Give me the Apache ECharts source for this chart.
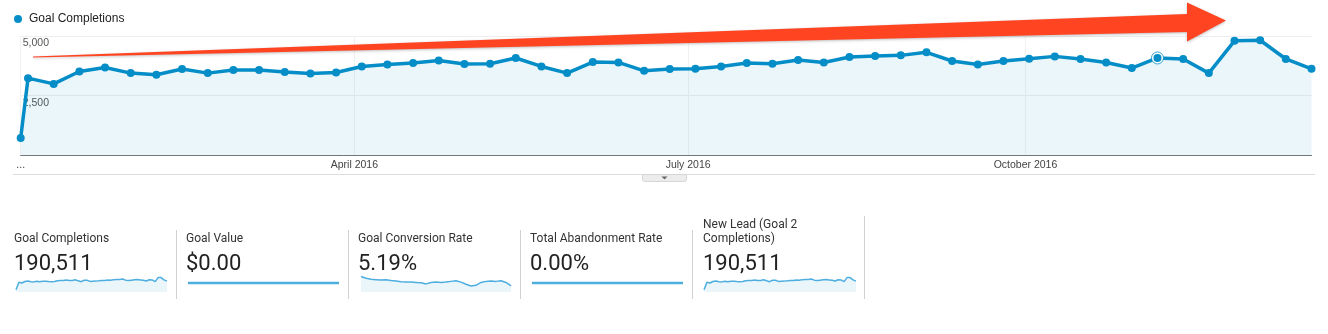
<!DOCTYPE html>
<html>
<head>
<meta charset="utf-8">
<script src="https://cdn.jsdelivr.net/npm/echarts@6/dist/echarts.min.js"></script>
<style>
html,body{margin:0;padding:0;background:#fff;}
#chart{width:1328px;height:334px;}
</style>
</head>
<body>
<div id="chart"></div>
<script>
// ---- data ----
const seriesName = 'Goal Completions';
const weekStarts = ['2016-01-01','2016-01-03','2016-01-10','2016-01-17','2016-01-24','2016-01-31','2016-02-07','2016-02-14','2016-02-21','2016-02-28','2016-03-06','2016-03-13','2016-03-20','2016-03-27','2016-04-03','2016-04-10','2016-04-17','2016-04-24','2016-05-01','2016-05-08','2016-05-15','2016-05-22','2016-05-29','2016-06-05','2016-06-12','2016-06-19','2016-06-26','2016-07-03','2016-07-10','2016-07-17','2016-07-24','2016-07-31','2016-08-07','2016-08-14','2016-08-21','2016-08-28','2016-09-04','2016-09-11','2016-09-18','2016-09-25','2016-10-02','2016-10-09','2016-10-16','2016-10-23','2016-10-30','2016-11-06','2016-11-13','2016-11-20','2016-11-27','2016-12-04','2016-12-11','2016-12-18'];
const goalCompletions = [729,3234,2993,3512,3681,3444,3373,3613,3444,3571,3571,3487,3428,3470,3723,3807,3866,3976,3824,3837,4077,3723,3444,3908,3891,3541,3613,3626,3723,3866,3837,3993,3891,4119,4161,4186,4313,3950,3807,3950,4047,4144,4035,3891,3655,4077,4035,3444,4793,4819,4035,3626];
const highlightedWeek = '2016-11-06';
const xTickDates = ['2016-01-01','2016-04-01','2016-07-01','2016-10-01'];
const xTickLabels = ['...','April 2016','July 2016','October 2016'];
const yTicks = [0, 2500, 5000];

const cardTitles = ['Goal Completions','Goal Value','Goal Conversion Rate','Total Abandonment Rate','New Lead (Goal 2\nCompletions)'];
const cardValues = ['190,511','$0.00','5.19%','0.00%','190,511'];
const conversionSpark = [5.73,5.53,5.41,5.37,5.33,5.37,5.29,5.22,5.14,5.10,5.10,5.06,5.02,4.90,5.06,5.10,5.06,5.10,5.18,5.25,5.10,4.86,4.67,4.74,5.06,5.18,5.22,5.18,5.25,5.06,4.67];
const goalValueSpark = [0,0,0,0,0,0,0,0,0,0,0,0,0,0,0,0,0,0,0,0,0,0,0,0,0,0,0,0,0,0,0];
const abandonmentSpark = [0,0,0,0,0,0,0,0,0,0,0,0,0,0,0,0,0,0,0,0,0,0,0,0,0,0,0,0,0,0,0];

// ---- build ----
function ts(s){ const p = s.split('-'); return Date.UTC(+p[0], +p[1]-1, +p[2]); }
const DAY = 86400000;
const t0 = ts(weekStarts[0]);
function dayIndex(s){ return Math.round((ts(s) - t0) / DAY); }
const tickDays = xTickDates.map(dayIndex);
const mainData = weekStarts.map(function(d, i){
  const item = { value: [dayIndex(d), goalCompletions[i]] };
  if (d === highlightedWeek) {
    item.symbolSize = 10;
    item.itemStyle = { color: '#058DC7', borderColor: '#ffffff', borderWidth: 2 };
  }
  return item;
});
const ringData = weekStarts.map(function(d, i){ return d === highlightedWeek ? [dayIndex(d), goalCompletions[i]] : null; }).filter(Boolean);

const sparkLine = '#4DAEDF';
const sparkFill = 'rgba(5,141,199,0.11)';
const cards = [
  { left: 16,  width: 151, data: goalCompletions, min: 0, max: 6000, area: true,  lw: 1.5 },
  { left: 188, width: 151, data: goalValueSpark,  min: -1, max: 1, area: false, lw: 2.5 },
  { left: 361, width: 150, data: conversionSpark, min: 4, max: 6, area: true,  lw: 1.5 },
  { left: 532, width: 151, data: abandonmentSpark,min: -1, max: 1, area: false, lw: 2.5 },
  { left: 704, width: 152, data: goalCompletions, min: 0, max: 6000, area: true,  lw: 1.5 }
];
const cardLeft = [14, 186, 358, 530, 703];
const cardTop = [232, 232, 232, 232, 218];

const grids = [{ left: 20.7, right: 16.5, top: 35.9, height: 119.6, outerBoundsMode: 'none', containLabel: false }];
const xAxes = [{
  type: 'value', gridIndex: 0,
  min: 0, max: dayIndex(weekStarts[weekStarts.length-1]),
  axisLine: { show: true, onZero: false, lineStyle: { color: '#777', width: 1 } },
  axisTick: { show: false, customValues: tickDays },
  axisLabel: {
    customValues: tickDays, showMinLabel: true, showMaxLabel: true,
    color: '#444', fontFamily: 'Arial, "Liberation Sans"', fontSize: 10.5, margin: 4,
    formatter: function(v){ const i = tickDays.indexOf(Math.round(+v)); return i >= 0 ? xTickLabels[i] : ''; }
  },
  splitLine: { show: true, lineStyle: { color: '#f1f1f1', width: 1 } }
}];
const yAxes = [{
  type: 'value', gridIndex: 0, min: yTicks[0], max: yTicks[yTicks.length-1], interval: yTicks[1]-yTicks[0],
  axisLine: { show: false }, axisTick: { show: false },
  axisLabel: {
    inside: true, margin: 2, showMinLabel: false, verticalAlign: 'top', padding: [2,0,0,0],
    color: '#555', fontFamily: 'Arial, "Liberation Sans"', fontSize: 10.5,
    formatter: function(v){ return v === 0 ? '' : v.toLocaleString('en-US'); }
  },
  splitLine: { show: true, lineStyle: { color: '#ededed', width: 1 } }
}];
const series = [
  {
    name: seriesName, type: 'line', xAxisIndex: 0, yAxisIndex: 0,
    data: mainData, symbol: 'circle', symbolSize: 8, showAllSymbol: true,
    lineStyle: { color: '#058DC7', width: 3.5 },
    itemStyle: { color: '#058DC7' },
    areaStyle: { color: 'rgba(5,141,199,0.11)' },
    emphasis: { disabled: true }, z: 3
  },
  {
    type: 'scatter', xAxisIndex: 0, yAxisIndex: 0, data: ringData,
    symbol: 'circle', symbolSize: 12, silent: true,
    itemStyle: { color: 'rgba(0,0,0,0)', borderColor: '#058DC7', borderWidth: 1 }, z: 4
  }
];
const titles = [];
cards.forEach(function(c, k){
  const gi = k + 1;
  grids.push({ left: c.left, width: c.width, top: 274, height: 18, outerBoundsMode: 'none', containLabel: false });
  xAxes.push({ type: 'category', gridIndex: gi, boundaryGap: false, show: false, data: c.data.map(function(_, i){ return i; }) });
  yAxes.push({ type: 'value', gridIndex: gi, show: false, min: c.min, max: c.max, splitLine: { show: false } });
  const s = { type: 'line', xAxisIndex: gi, yAxisIndex: gi, data: c.data, symbol: 'none', silent: true,
    lineStyle: { color: sparkLine, width: c.lw } };
  if (c.area) s.areaStyle = { color: sparkFill };
  series.push(s);
  titles.push({
    text: cardTitles[k], subtext: cardValues[k], left: cardLeft[k], top: cardTop[k], padding: 0, itemGap: 5,
    textStyle: { fontFamily: 'Roboto', fontSize: 12, fontWeight: 'normal', color: '#333', lineHeight: 14 },
    subtextStyle: { fontFamily: 'Roboto', fontSize: 22, color: '#222', lineHeight: 26 }
  });
});

const graphics = [];
[176.5, 348.5, 520.5, 692.5].forEach(function(x){
  graphics.push({ type: 'line', shape: { x1: x, y1: 230, x2: x, y2: 299 }, style: { stroke: '#d0d0d0', lineWidth: 1 }, silent: true });
});
graphics.push({ type: 'line', shape: { x1: 864.5, y1: 216, x2: 864.5, y2: 299 }, style: { stroke: '#d0d0d0', lineWidth: 1 }, silent: true });
graphics.push({ type: 'line', shape: { x1: 13, y1: 174.5, x2: 1315, y2: 174.5 }, style: { stroke: '#dcdcdc', lineWidth: 1 }, silent: true });
graphics.push({ type: 'rect', shape: { x: 642.5, y: 174.5, width: 44, height: 7, r: [0,0,2,2] }, style: { fill: '#ececec', stroke: '#d6d6d6', lineWidth: 1 }, silent: true });
graphics.push({ type: 'polygon', shape: { points: [[661.5,176.5],[667.5,176.5],[664.5,179.5]] }, style: { fill: '#666' }, silent: true });
// red annotation arrow
graphics.push({ type: 'polygon', z: 100, silent: true,
  shape: { points: [[33,56.5],[1187,14],[1187,2.5],[1226,20.5],[1187,41.5],[1187,32],[33,57.5]] },
  style: { fill: '#FF4422', shadowBlur: 3, shadowColor: 'rgba(0,0,0,0.25)', shadowOffsetY: 1 } });

const chart = echarts.init(document.getElementById('chart'), null, { renderer: 'canvas' });
chart.setOption({
  animation: false,
  backgroundColor: '#ffffff',
  title: titles,
  legend: {
    show: true, data: [seriesName], left: 14, top: 13, icon: 'circle', itemWidth: 8, itemHeight: 8, itemGap: 10,
    padding: 0, textStyle: { fontFamily: 'Arial, "Liberation Sans"', fontSize: 12, color: '#222', padding: [0,0,0,2] },
    selectedMode: false
  },
  grid: grids, xAxis: xAxes, yAxis: yAxes, series: series,
  graphic: graphics
});
</script>
</body>
</html>
